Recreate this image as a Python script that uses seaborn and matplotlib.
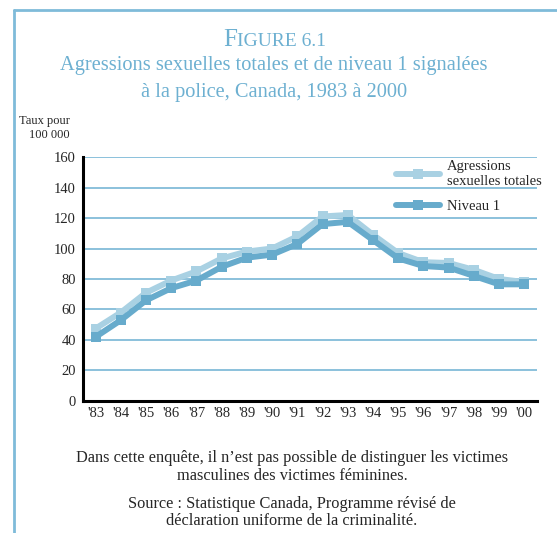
import pandas as pd
import matplotlib.pyplot as plt
import seaborn as sns
from matplotlib.lines import Line2D

years = ["'83", "'84", "'85", "'86", "'87", "'88", "'89", "'90", "'91",
         "'92", "'93", "'94", "'95", "'96", "'97", "'98", "'99", "'00"]
total = [47.5, 58, 71, 79, 85, 93.5, 98, 100, 108, 121, 122, 109, 97, 91, 90.5, 86, 80, 78]
level1 = [42, 53, 66, 74, 79, 88, 94, 96, 103, 116, 117.5, 105.5, 93.5, 88.5, 87.5, 82, 76.5, 76.5]

light = "#a9d1e3"
dark = "#67abcc"
grid_col = "#78b6d6"
title_col = "#6db0d1"

sns.set_style("white")
plt.rcParams['font.family'] = ['Liberation Serif', 'DejaVu Serif']

df = pd.DataFrame({"pos": list(range(len(years))) * 2,
                   "value": total + level1,
                   "serie": ["Agressions\nsexuelles totales"] * len(years) + ["Niveau 1"] * len(years)})

fig = plt.figure(figsize=(5.57, 5.33), dpi=100)
ax = fig.add_axes([0.149, 0.2477, 0.815, 0.4577])

sns.lineplot(data=df, x="pos", y="value", hue="serie", palette=[light, dark],
             marker="s", markersize=7.5, markeredgewidth=0, linewidth=4.3,
             ax=ax, legend=False, zorder=3)

ax.set_xlim(-0.5, len(years) - 0.5)
ax.set_ylim(0, 160)
ax.set_yticks(range(0, 161, 20))
ax.yaxis.grid(True, color=grid_col, linewidth=1.2)
ax.set_axisbelow(True)
ax.set_xticks([i + 0.5 for i in range(len(years) - 1)] + [len(years) - 0.5])
ax.set_xticklabels([])
ax.set_xticks(range(len(years)), minor=True)
ax.set_xticklabels(years, minor=True)
ax.tick_params(axis="x", which="major", direction="in", length=5, width=2, color="black")
ax.tick_params(axis="x", which="minor", length=0, pad=4, labelsize=10.5)
ax.tick_params(axis="y", length=0, pad=5, labelsize=10.5)
ax.set_xlabel("")
ax.set_ylabel("")
for s in ["top", "right"]:
    ax.spines[s].set_visible(False)
ax.spines["left"].set_linewidth(2.2)
ax.spines["bottom"].set_linewidth(2.2)
ax.spines["left"].set_color("black")
ax.spines["bottom"].set_color("black")

handles = [Line2D([], [], color=light, lw=4.3, marker="s", markersize=7.5, markeredgewidth=0),
           Line2D([], [], color=dark, lw=4.3, marker="s", markersize=7.5, markeredgewidth=0)]
ax.legend(handles, ["Agressions\nsexuelles totales", "Niveau 1"], frameon=False,
          loc="upper right", bbox_to_anchor=(1.04, 1.04), handlelength=3.0,
          handletextpad=0.5, labelspacing=0.8, fontsize=10.5)

# frame around the figure
fig.add_artist(Line2D([14 / 557, 14 / 557], [0, 1 - 10 / 533], color="#7fbbd9", lw=2, transform=fig.transFigure))
fig.add_artist(Line2D([14 / 557, 1], [1 - 10 / 533, 1 - 10 / 533], color="#7fbbd9", lw=2, transform=fig.transFigure))

# titles
fig.text(237 / 557, 1 - 40 / 533, "F", color=title_col, fontsize=18, ha="right", va="center")
fig.text(237 / 557, 1 - 41 / 533, "IGURE 6.1", color=title_col, fontsize=14, ha="left", va="center")
fig.text(274 / 557, 1 - 66 / 533, "Agressions sexuelles totales et de niveau 1 signalées",
         color=title_col, fontsize=14.7, ha="center", va="center")
fig.text(274 / 557, 1 - 92 / 533, "à la police, Canada, 1983 à 2000",
         color=title_col, fontsize=14.7, ha="center", va="center")

fig.text(70 / 557, 1 - 128 / 533, "Taux pour\n100 000", fontsize=9, ha="right", va="center", linespacing=1.2)

fig.text(292 / 557, 1 - 467 / 533, "Dans cette enquête, il n’est pas possible de distinguer les victimes\nmasculines des victimes féminines.",
         fontsize=11.8, ha="center", va="center", linespacing=1.1)
fig.text(292 / 557, 1 - 512.5 / 533, "Source : Statistique Canada, Programme révisé de\ndéclaration uniforme de la criminalité.",
         fontsize=11.8, ha="center", va="center", linespacing=1.1)

fig.savefig("out.png", dpi=100)
